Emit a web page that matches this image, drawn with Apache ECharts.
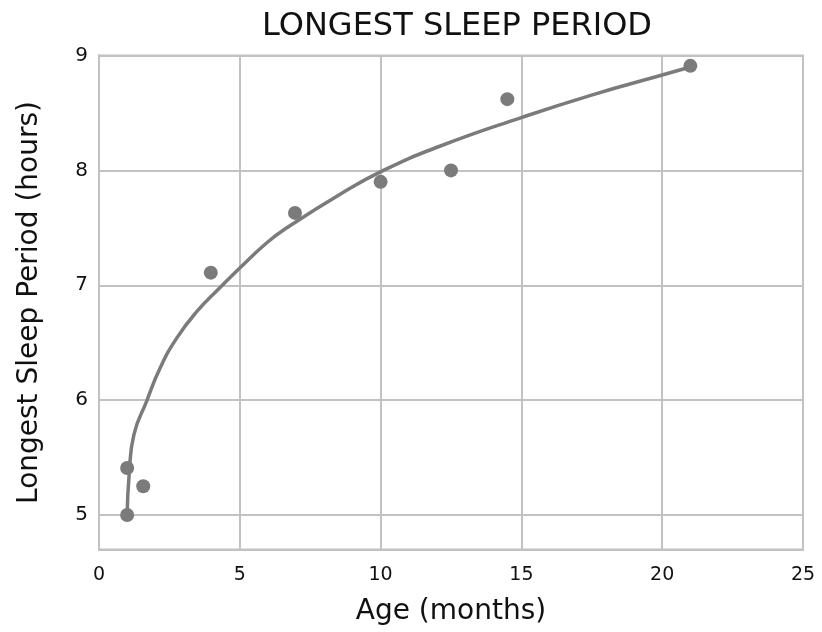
<!DOCTYPE html>
<html>
<head>
<meta charset="utf-8">
<script src="https://cdn.jsdelivr.net/npm/echarts@6/dist/echarts.min.js"></script>
<style>html,body{margin:0;padding:0;background:#fff}#c{width:822px;height:632px}</style>
</head>
<body>
<div id="c"></div>
<script>
const chartTitle = 'LONGEST SLEEP PERIOD';
const xAxisName = 'Age (months)';
const yAxisName = 'Longest Sleep Period (hours)';
const ageMonths = [1, 1, 1.57, 3.97, 6.96, 10.0, 12.5, 14.5, 21.0];
const sleepHours = [5.0, 5.41, 5.25, 7.11, 7.63, 7.90, 8.0, 8.62, 8.91];
const fitAge = [1, 1.07, 1.24, 1.69, 2.17, 2.76, 3.47, 4.3, 5.0, 5.96, 6.67, 8.55, 10.1, 12.1, 15, 17.55, 20, 21];
const fitHours = [5.0, 5.35, 5.70, 5.99, 6.28, 6.54, 6.77, 6.98, 7.15, 7.37, 7.50, 7.79, 8.0, 8.21, 8.46, 8.66, 8.83, 8.9];

const font = "'DejaVu Sans', sans-serif";
const grid = '#c2c2c2';
const chart = echarts.init(document.getElementById('c'));
chart.setOption({
  animation: false,
  backgroundColor: '#fff',
  title: {
    text: chartTitle, left: 452, top: 6, textAlign: 'center',
    textStyle: {fontFamily: font, fontSize: 32, fontWeight: 'normal', color: '#111'}
  },
  grid: {left: 99, right: 19, top: 55.5, bottom: 82.5, show: true, borderColor: grid, borderWidth: 2, outerBoundsMode: 'none', containLabel: false},
  xAxis: {
    type: 'value', min: 0, max: 25, interval: 5,
    name: xAxisName, nameLocation: 'middle', nameGap: 48,
    nameTextStyle: {fontFamily: font, fontSize: 28, color: '#111'},
    axisLine: {show: true, lineStyle: {color: grid, width: 2}},
    axisTick: {show: false},
    axisLabel: {fontFamily: font, fontSize: 19, color: '#111', margin: 16},
    splitLine: {show: true, lineStyle: {color: grid, width: 2}}
  },
  yAxis: {
    type: 'value', min: 4.7, max: 9, splitNumber: 4,
    name: yAxisName, nameLocation: 'middle', nameGap: 55,
    nameTextStyle: {fontFamily: font, fontSize: 28, color: '#111'},
    axisLine: {show: true, lineStyle: {color: grid, width: 2}},
    axisTick: {show: false},
    axisLabel: {fontFamily: font, fontSize: 20, color: '#111', margin: 11, showMinLabel: false},
    splitLine: {show: true, lineStyle: {color: grid, width: 2}}
  },
  series: [
    {
      type: 'line', data: fitAge.map((x, i) => [x, fitHours[i]]),
      smooth: 0.5, showSymbol: false, symbol: 'none',
      lineStyle: {color: '#7b7b7b', width: 3.5}, z: 2
    },
    {
      type: 'scatter', data: ageMonths.map((x, i) => [x, sleepHours[i]]),
      symbol: 'circle', symbolSize: 14, itemStyle: {color: '#7b7b7b', opacity: 1}, z: 3
    }
  ]
});
</script>
</body>
</html>
